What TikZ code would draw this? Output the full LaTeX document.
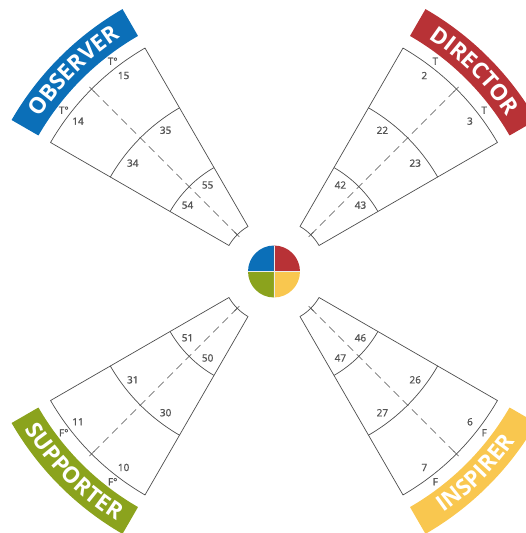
\documentclass[tikz,border=0pt]{standalone}
\usepackage{fontspec}
\setmainfont{Open Sans}
\newfontfamily\numfont[FakeBold=1.2]{Open Sans}
\usepackage{tikz}
\usetikzlibrary{decorations.text}

\definecolor{obsblue}{HTML}{0B6FB8}
\definecolor{dirred}{HTML}{B83236}
\definecolor{supgreen}{HTML}{8BA31D}
\definecolor{insyellow}{HTML}{F9C74F}
\definecolor{linegray}{HTML}{4D4D4D}
\definecolor{numgray}{HTML}{555555}
\newcommand\bannerfont{\fontsize{22.5}{22.5}\selectfont\bfseries\color{white}}

\begin{document}
\begin{tikzpicture}[
    sector/.style={draw=linegray, line width=0.7pt},
    midline/.style={draw=linegray, line width=0.6pt, dash pattern=on 8pt off 5pt},
    num/.style={text=numgray, font=\numfont\fontsize{10}{12}\selectfont, inner sep=0pt},
  ]
  \clip (-274pt,-261.5pt) rectangle (252pt,271.5pt);

  % the four wedges
  \foreach \a in {45,135,225,315} {
    \draw[sector] ({\a-15}:52pt) -- ({\a-15}:258pt)
      arc[start angle=\a-15, end angle=\a+15, radius=258pt]
      -- ({\a+15}:52pt) arc[start angle=\a+15, end angle=\a-15, radius=52pt] -- cycle;
    \draw[sector] ({\a-15}:120pt) arc[start angle=\a-15, end angle=\a+15, radius=120pt];
    \draw[sector] ({\a-15}:189pt) arc[start angle=\a-15, end angle=\a+15, radius=189pt];
    \draw[midline] (\a:52pt) -- (\a:258pt);
    \draw[sector] (\a:49pt) -- (\a:56pt);
    \draw[sector] (\a:254pt) -- (\a:261pt);
  }

  % banners
  \fill[obsblue] (150:272pt) arc[start angle=150, end angle=120, radius=272pt]
    -- (120:303pt) arc[start angle=120, end angle=150, radius=303pt] -- cycle;
  \path[decorate, decoration={text along path, text align=center, text={|\bannerfont|OBSERVER}}]
    (150:280pt) arc[start angle=150, end angle=120, radius=280pt];

  \fill[dirred] (60:272pt) arc[start angle=60, end angle=30, radius=272pt]
    -- (30:303pt) arc[start angle=30, end angle=60, radius=303pt] -- cycle;
  \path[decorate, decoration={text along path, text align=center, text={|\bannerfont|DIRECTOR}}]
    (60:280pt) arc[start angle=60, end angle=30, radius=280pt];

  \fill[supgreen] (210:272pt) arc[start angle=210, end angle=240, radius=272pt]
    -- (240:303pt) arc[start angle=240, end angle=210, radius=303pt] -- cycle;
  \path[decorate, decoration={text along path, text align=center, text={|\bannerfont|SUPPORTER}}]
    (210:295pt) arc[start angle=210, end angle=240, radius=295pt];

  \fill[insyellow] (300:272pt) arc[start angle=300, end angle=330, radius=272pt]
    -- (330:303pt) arc[start angle=330, end angle=300, radius=303pt] -- cycle;
  \path[decorate, decoration={text along path, text align=center, text={|\bannerfont|INSPIRER}}]
    (300:295pt) arc[start angle=300, end angle=330, radius=295pt];

  % numbers, observer
  \node[num] (o15) at (127.5:247pt) {15};
  \node[num] (o14) at (142.5:247pt) {14};
  \node[num] (o35) at (127.5:178pt) {35};
  \node[num] (o34) at (142.5:178pt) {34};
  \node[num] (o55) at (127.5:109pt) {55};
  \node[num] (o54) at (142.5:109pt) {54};
  \node[num] (ot1) at (127.5:265pt) {T°};
  \node[num] (ot2) at (142.5:265pt) {T°};
  % director
  \node[num] (d2) at (52.5:247pt) {2};
  \node[num] (d3) at (37.5:247pt) {3};
  \node[num] (d22) at (52.5:178pt) {22};
  \node[num] (d23) at (37.5:178pt) {23};
  \node[num] (d42) at (52.5:109pt) {42};
  \node[num] (d43) at (37.5:109pt) {43};
  \node[num] (dt1) at (52.5:265pt) {T};
  \node[num] (dt2) at (37.5:265pt) {T};
  % supporter
  \node[num] (s11) at (217.5:247pt) {11};
  \node[num] (s10) at (232.5:247pt) {10};
  \node[num] (s31) at (217.5:178pt) {31};
  \node[num] (s30) at (232.5:178pt) {30};
  \node[num] (s51) at (217.5:109pt) {51};
  \node[num] (s50) at (232.5:109pt) {50};
  \node[num] (sf1) at (217.5:265pt) {F°};
  \node[num] (sf2) at (232.5:265pt) {F°};
  % inspirer
  \node[num] (i6) at (322.5:247pt) {6};
  \node[num] (i7) at (307.5:247pt) {7};
  \node[num] (i26) at (322.5:178pt) {26};
  \node[num] (i27) at (307.5:178pt) {27};
  \node[num] (i46) at (322.5:109pt) {46};
  \node[num] (i47) at (307.5:109pt) {47};
  \node[num] (if1) at (322.5:265pt) {F};
  \node[num] (if2) at (307.5:265pt) {F};

  % centre disc
  \fill[obsblue] (0,0) -- (90:26pt) arc[start angle=90, end angle=180, radius=26pt] -- cycle;
  \fill[dirred] (0,0) -- (0:26pt) arc[start angle=0, end angle=90, radius=26pt] -- cycle;
  \fill[supgreen] (0,0) -- (180:26pt) arc[start angle=180, end angle=270, radius=26pt] -- cycle;
  \fill[insyellow] (0,0) -- (270:26pt) arc[start angle=270, end angle=360, radius=26pt] -- cycle;
  \draw[white!85!gray, line width=0.8pt] (-26pt,0) -- (26pt,0) (0,-26pt) -- (0,26pt);
\end{tikzpicture}
\end{document}
